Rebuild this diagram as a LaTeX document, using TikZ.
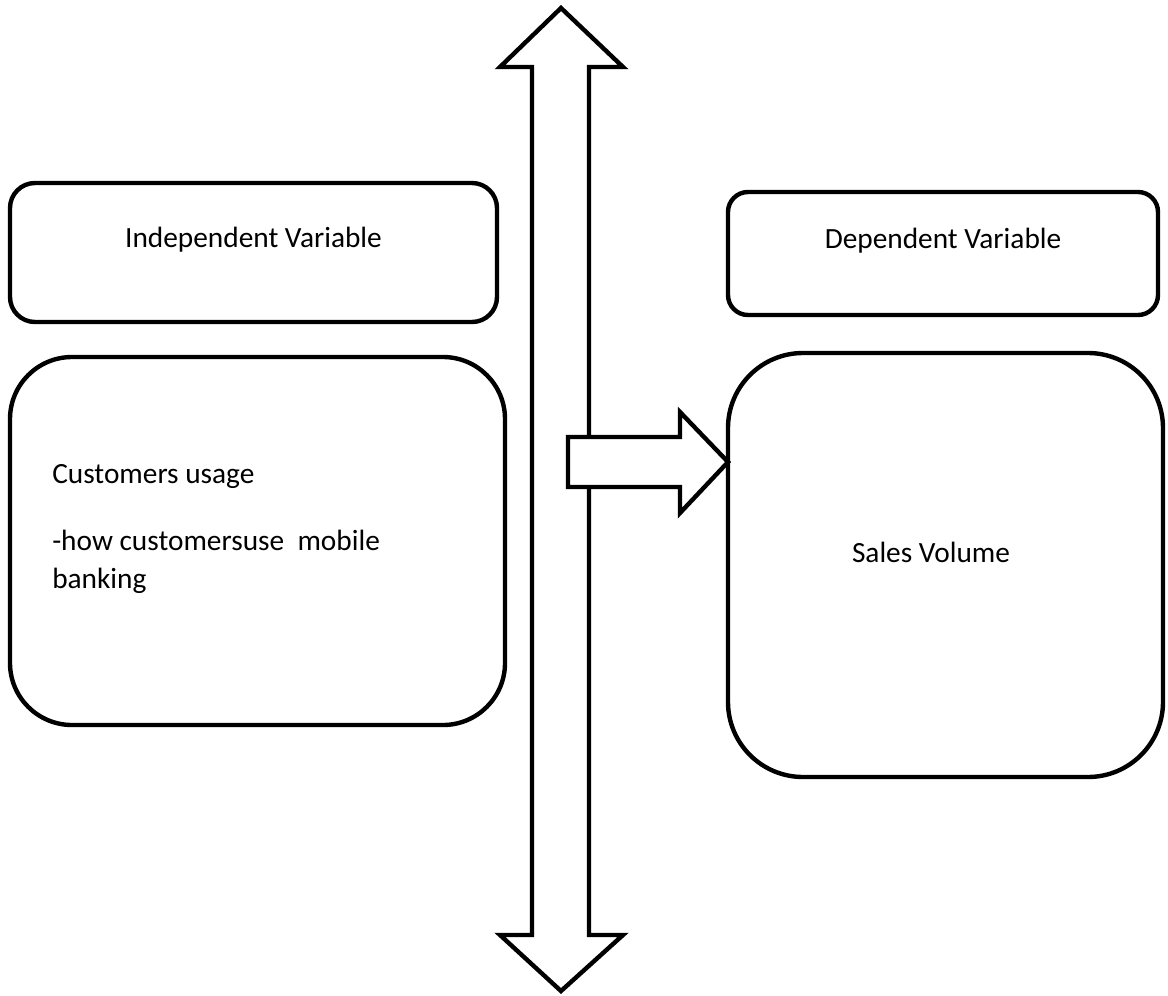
\documentclass[tikz,border=0pt]{standalone}
\usepackage{fontspec}
\setmainfont{Carlito}
\begin{document}
\begin{tikzpicture}[x=0.75pt,y=-0.75pt,
  shape line/.style={line width=3.3pt,line join=miter,draw=black,fill=white},
  vbox/.style={draw=black,line width=3.3pt,rectangle,inner sep=0pt},
  lbl/.style={inner sep=0pt,font=\fontsize{22}{28.5}\selectfont}]
\useasboundingbox (0,0) rectangle (1168,996);
% boxes
\node[vbox,rounded corners=25*0.75pt,minimum width=487*0.75pt,minimum height=139*0.75pt] (ind) at (253.5,252.5) {};
\node[vbox,rounded corners=62*0.75pt,minimum width=495*0.75pt,minimum height=368*0.75pt] (cust) at (257.5,541) {};
\node[vbox,rounded corners=20*0.75pt,minimum width=430*0.75pt,minimum height=123*0.75pt] (dep) at (943,253.5) {};
\node[vbox,rounded corners=75*0.75pt,minimum width=435*0.75pt,minimum height=424*0.75pt] (sales) at (945.5,565) {};
% labels
\node[lbl,anchor=base] (indt) at (253.5,247) {Independent Variable};
\node[lbl,anchor=base] (dept) at (943,248) {Dependent Variable};
\node[lbl,anchor=base] (salest) at (931,562) {Sales Volume};
\node[lbl,anchor=base west] (c1) at (52,483) {Customers usage};
\node[lbl,anchor=base west] (c2) at (52,550) {-how customersuse\ \ mobile};
\node[lbl,anchor=base west] (c3) at (52,588) {banking};
% vertical double arrow
\draw[shape line] (561,8) -- (623,67) -- (589,67) -- (589,935) -- (623,935)
  -- (561,991) -- (500,935) -- (532,935) -- (532,67) -- (500,67) -- cycle;
% right block arrow
\coordinate (tip) at (728,462);
\draw[shape line] (568,437) -- (680,437) -- (680,412) -- (tip) -- (680,513)
  -- (680,487) -- (568,487) -- cycle;
\end{tikzpicture}
\end{document}
